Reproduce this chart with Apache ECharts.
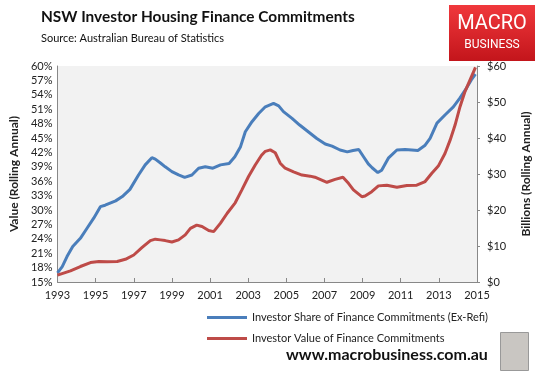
<!DOCTYPE html>
<html><head><meta charset="utf-8">
<script src="https://cdn.jsdelivr.net/npm/echarts@6/dist/echarts.min.js"></script>
<style>html,body{margin:0;padding:0;background:#fff}#c{width:545px;height:381px}</style>
</head><body><div id="c"></div>
<script>
const xTicks = [1993, 1995, 1997, 1999, 2001, 2003, 2005, 2007, 2009, 2011, 2013, 2015];
const shareYears = [1993.0,1993.25,1993.5,1993.8,1994.2,1994.55,1994.9,1995.25,1995.5,1996.05,1996.4,1996.8,1997.25,1997.6,1997.95,1998.13,1998.4,1998.65,1999.0,1999.35,1999.67,2000.05,2000.4,2000.75,2001.15,2001.55,2002.0,2002.3,2002.6,2002.85,2003.2,2003.55,2003.9,2004.33,2004.6,2004.85,2005.3,2005.7,2006.15,2006.6,2007.04,2007.4,2007.82,2008.2,2008.5,2008.8,2009.05,2009.3,2009.5,2009.8,2010.0,2010.35,2010.8,2011.23,2011.58,2011.9,2012.28,2012.54,2012.9,2013.32,2013.76,2014.1,2014.45,2014.7,2014.92];
const shareValues = [16.9,18.2,20.3,22.4,24.1,26.2,28.3,30.7,31.0,31.9,32.8,34.3,37.3,39.4,40.9,40.6,39.8,39.0,38.0,37.3,36.8,37.3,38.7,39.0,38.7,39.4,39.7,41.1,43.2,46.3,48.4,50.1,51.5,52.2,51.7,50.5,49.1,47.7,46.3,44.9,43.75,43.3,42.5,42.1,42.4,42.6,41.1,39.6,38.8,37.8,38.3,40.8,42.5,42.6,42.5,42.4,43.5,44.9,48.1,49.8,51.5,53.3,55.4,57.1,58.3];
const valueYears = [1993.0,1993.68,1994.2,1994.73,1995.17,1995.6,1996.13,1996.56,1997.0,1997.44,1997.87,1998.13,1998.4,1998.65,1999.0,1999.35,1999.7,1999.97,2000.3,2000.58,2000.93,2001.19,2001.54,2001.9,2002.32,2002.67,2003.02,2003.37,2003.7,2003.9,2004.16,2004.42,2004.68,2004.94,2005.38,2005.82,2006.25,2006.5,2007.13,2007.56,2007.97,2008.26,2008.52,2008.96,2009.13,2009.48,2009.83,2010.27,2010.8,2011.32,2011.84,2012.28,2012.63,2012.97,2013.32,2013.59,2013.85,2014.11,2014.37,2014.63,2014.92];
const valueValues = [1.9,3.1,4.3,5.4,5.7,5.6,5.7,6.3,7.5,9.6,11.5,11.9,11.7,11.5,11.1,11.7,13.1,14.9,15.8,15.4,14.3,14.0,16.3,19.1,22.0,25.6,29.3,32.5,35.2,36.3,36.7,35.9,33.0,31.6,30.6,29.7,29.4,29.1,27.7,28.5,29.1,27.4,25.6,23.7,23.9,25.1,26.7,26.9,26.3,26.8,26.9,27.9,30.2,32.2,35.7,39.4,43.6,48.7,52.9,56.1,59.6];
const seriesNames = ['Investor Share of Finance Commitments (Ex-Refi)', 'Investor Value of Finance Commitments'];
const titleText = 'NSW Investor Housing Finance Commitments';
const subtitleText = 'Source: Australian Bureau of Statistics';
const leftAxisName = 'Value (Rolling Annual)';
const rightAxisName = 'Billions (Rolling Annual)';
const footerText = 'www.macrobusiness.com.au';

const F = 'Lato, "Liberation Sans", sans-serif';
const chart = echarts.init(document.getElementById('c'), null, {renderer: 'canvas'});
const axisLbl = {color: '#222', fontSize: 11, fontFamily: F};
chart.setOption({
  animation: false,
  backgroundColor: '#ffffff',
  grid: {left: 57, right: 68, top: 66, bottom: 99, show: true, backgroundColor: '#f2f2f2', borderWidth: 0},
  xAxis: {
    type: 'value', min: xTicks[0], max: xTicks[xTicks.length - 1], interval: 2,
    axisLine: {show: true, lineStyle: {color: '#888', width: 1}},
    axisTick: {show: true, inside: true, length: 4, lineStyle: {color: '#888'}},
    splitLine: {show: false},
    axisLabel: Object.assign({formatter: v => String(v), margin: 8}, axisLbl)
  },
  yAxis: [{
    type: 'value', min: 15, max: 60, interval: 3, position: 'left',
    name: leftAxisName, nameLocation: 'middle', nameRotate: 90, nameGap: 36,
    nameTextStyle: {fontSize: 12, fontWeight: 'bold', color: '#222', fontFamily: F},
    axisLine: {show: true, lineStyle: {color: '#888'}},
    axisTick: {show: false},
    splitLine: {show: false},
    axisLabel: Object.assign({formatter: v => v + '%', margin: 5}, axisLbl)
  }, {
    type: 'value', min: 0, max: 60, interval: 10, position: 'right',
    name: rightAxisName, nameLocation: 'middle', nameRotate: 90, nameGap: 43,
    nameTextStyle: {fontSize: 12, fontWeight: 'bold', color: '#222', fontFamily: F},
    axisLine: {show: true, lineStyle: {color: '#888'}},
    axisTick: {show: true, inside: false, length: 3, lineStyle: {color: '#888'}},
    splitLine: {show: false},
    axisLabel: Object.assign({formatter: v => '$' + v, margin: 10}, axisLbl)
  }],
  legend: {
    orient: 'vertical', left: 202, top: 307, itemWidth: 40, itemHeight: 3, itemGap: 10,
    icon: 'rect', textStyle: {fontSize: 11, color: '#222', fontFamily: F},
    data: seriesNames
  },
  series: [{
    name: seriesNames[0], type: 'line', yAxisIndex: 0, showSymbol: false,
    lineStyle: {color: '#4a7ebb', width: 3}, itemStyle: {color: '#4a7ebb'},
    data: shareYears.map((y, i) => [y, shareValues[i]])
  }, {
    name: seriesNames[1], type: 'line', yAxisIndex: 1, showSymbol: false,
    lineStyle: {color: '#be4b48', width: 3}, itemStyle: {color: '#be4b48'},
    data: valueYears.map((y, i) => [y, valueValues[i]])
  }],
  graphic: [
    {type: 'text', left: 41, top: 10, style: {text: titleText, font: 'bold 15.4px ' + F, fill: '#111'}},
    {type: 'text', left: 41, top: 33, style: {text: subtitleText, font: '11px ' + F, fill: '#111'}},
    {type: 'rect', left: 449, top: 5, shape: {width: 86, height: 56},
      style: {fill: new echarts.graphic.LinearGradient(0, 0, 0, 1, [{offset: 0, color: '#f0383c'}, {offset: 1, color: '#c3151b'}])}},
    {type: 'text', x: 492, y: 14, style: {text: 'MACRO', font: '20px "Liberation Sans Narrow", Roboto, sans-serif', fill: '#fff', align: 'center'}},
    {type: 'text', x: 492, y: 39, style: {text: 'BUSINESS', font: '12px Roboto, sans-serif', fill: '#fff', align: 'center'}},
    {type: 'text', left: 286, top: 347, style: {text: footerText, font: 'bold 16px ' + F, fill: '#111'}},
    {type: 'rect', left: 500, top: 332, shape: {width: 28, height: 38},
      style: {fill: '#c9c6c2', stroke: '#999', lineWidth: 1}}
  ]
});
</script></body></html>
